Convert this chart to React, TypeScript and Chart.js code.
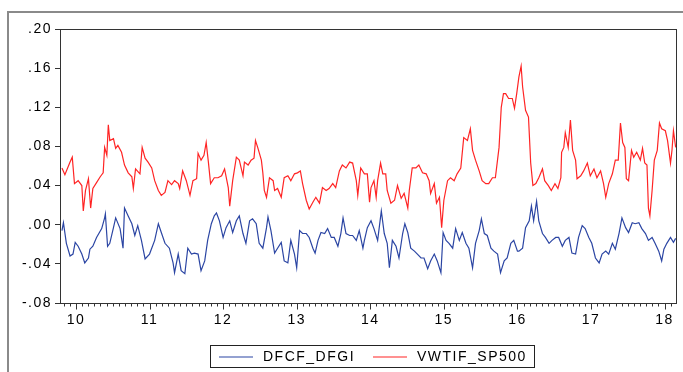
import React, { useEffect, useRef } from 'react';
import { Chart, registerables } from 'chart.js';

Chart.register(...registerables);

// ---------- data ----------
const seriesNames = ['DFCF_DFGI', 'VWTIF_SP500'];

const xTickYears = [2010, 2011, 2012, 2013, 2014, 2015, 2016, 2017, 2018];
const xTickLabels = ['10', '11', '12', '13', '14', '15', '16', '17', '18'];
const yTickValues = [-0.08, -0.04, 0, 0.04, 0.08, 0.12, 0.16, 0.2];
const xMin = 2009.797;
const xMax = 2018.163;

// VWTIF_SP500 (red)
const redTimes = [
  2009.81, 2009.85, 2009.92, 2009.95, 2009.98, 2010.03, 2010.08, 2010.10, 2010.13, 2010.17,
  2010.20, 2010.23, 2010.28, 2010.33, 2010.37, 2010.39, 2010.42, 2010.44, 2010.46, 2010.51,
  2010.54, 2010.57, 2010.62, 2010.66, 2010.71, 2010.76, 2010.78, 2010.81, 2010.87, 2010.90,
  2010.94, 2010.98, 2011.03, 2011.07, 2011.12, 2011.16, 2011.21, 2011.25, 2011.30, 2011.34,
  2011.39, 2011.41, 2011.45, 2011.50, 2011.55, 2011.59, 2011.64, 2011.66, 2011.70, 2011.74,
  2011.77, 2011.80, 2011.83, 2011.88,
  2011.93, 2011.98, 2012.02, 2012.07, 2012.09, 2012.13, 2012.18, 2012.22, 2012.27, 2012.29,
  2012.34, 2012.38, 2012.42, 2012.44, 2012.47, 2012.52, 2012.54, 2012.56, 2012.59, 2012.63,
  2012.68, 2012.70, 2012.74, 2012.79, 2012.83, 2012.88, 2012.92, 2012.97, 2013.01, 2013.05,
  2013.08, 2013.13, 2013.17, 2013.22, 2013.26, 2013.31, 2013.35, 2013.40, 2013.44, 2013.49,
  2013.53, 2013.58, 2013.62, 2013.67, 2013.72, 2013.76, 2013.81, 2013.83, 2013.87, 2013.92,
  2013.96, 2013.99, 2014.01, 2014.05, 2014.08, 2014.10, 2014.14, 2014.17, 2014.21, 2014.23,
  2014.28, 2014.33, 2014.37, 2014.42, 2014.46, 2014.51, 2014.53, 2014.57, 2014.62, 2014.66,
  2014.71, 2014.76, 2014.80, 2014.82, 2014.87, 2014.90, 2014.94, 2014.97, 2015.00, 2015.05,
  2015.09, 2015.14, 2015.18, 2015.23, 2015.27, 2015.32, 2015.36, 2015.39, 2015.43, 2015.48,
  2015.52, 2015.57, 2015.61, 2015.66, 2015.70, 2015.75, 2015.78, 2015.81, 2015.84, 2015.88,
  2015.93, 2015.96, 2015.99, 2016.02, 2016.05,
  2016.07, 2016.11, 2016.15, 2016.18, 2016.21, 2016.25, 2016.29, 2016.34, 2016.37, 2016.42,
  2016.46, 2016.51, 2016.55, 2016.59, 2016.60, 2016.63, 2016.65, 2016.69, 2016.72, 2016.75,
  2016.79, 2016.81, 2016.86, 2016.90, 2016.95, 2016.99, 2017.04, 2017.08, 2017.13, 2017.17,
  2017.20, 2017.24, 2017.29, 2017.33, 2017.37, 2017.40, 2017.43, 2017.46, 2017.48, 2017.51,
  2017.55, 2017.58, 2017.62, 2017.67, 2017.70, 2017.73, 2017.76, 2017.78, 2017.80, 2017.83,
  2017.86, 2017.90, 2017.93, 2017.96, 2018.01, 2018.04, 2018.08, 2018.10, 2018.12, 2018.15,
];
const redValues = [
  0.058, 0.051, 0.064, 0.069, 0.042, 0.045, 0.040, 0.014, 0.035, 0.047,
  0.017, 0.037, 0.043, 0.049, 0.053, 0.079, 0.071, 0.102, 0.086, 0.088,
  0.078, 0.081, 0.074, 0.061, 0.053, 0.049, 0.037, 0.057, 0.052, 0.079,
  0.068, 0.064, 0.058, 0.045, 0.035, 0.030, 0.033, 0.045, 0.041, 0.045,
  0.042, 0.037, 0.055, 0.045, 0.030, 0.045, 0.047, 0.073, 0.066, 0.071,
  0.084, 0.064, 0.042, 0.048,
  0.048, 0.050, 0.057, 0.038, 0.019, 0.045, 0.069, 0.066, 0.050, 0.064,
  0.061, 0.066, 0.068, 0.086, 0.079, 0.066, 0.053, 0.035, 0.028, 0.048,
  0.045, 0.035, 0.037, 0.028, 0.048, 0.050, 0.045, 0.052, 0.053, 0.055,
  0.042, 0.025, 0.016, 0.023, 0.028, 0.022, 0.038, 0.035, 0.037, 0.042,
  0.038, 0.055, 0.061, 0.058, 0.064, 0.063, 0.045, 0.030, 0.058, 0.052,
  0.052, 0.023, 0.038, 0.045, 0.028, 0.045, 0.063, 0.052, 0.052, 0.035,
  0.022, 0.025, 0.040, 0.027, 0.032, 0.017, 0.035, 0.058, 0.058, 0.061,
  0.053, 0.052, 0.045, 0.032, 0.042, 0.022, 0.028, -0.003, 0.025, 0.045,
  0.048, 0.045, 0.052, 0.058, 0.089, 0.086, 0.098, 0.076, 0.066, 0.055,
  0.045, 0.042, 0.042, 0.048, 0.048, 0.079, 0.120, 0.134, 0.134, 0.129,
  0.129, 0.119, 0.134, 0.151, 0.162,
  0.141, 0.117, 0.110, 0.063, 0.040, 0.042, 0.048, 0.057, 0.045, 0.040,
  0.035, 0.042, 0.037, 0.048, 0.074, 0.079, 0.094, 0.079, 0.107, 0.076,
  0.066, 0.047, 0.050, 0.055, 0.063, 0.050, 0.057, 0.048, 0.055, 0.042,
  0.028, 0.042, 0.052, 0.066, 0.066, 0.104, 0.084, 0.079, 0.047, 0.045,
  0.076, 0.069, 0.074, 0.066, 0.078, 0.063, 0.061, 0.017, 0.009, 0.035,
  0.066, 0.076, 0.104, 0.098, 0.096, 0.086, 0.063, 0.076, 0.096, 0.079,
];

// DFCF_DFGI (blue)
const blueTimes = [
  2009.81, 2009.83, 2009.87, 2009.92, 2009.96, 2009.99, 2010.03, 2010.08, 2010.12, 2010.17,
  2010.19, 2010.23, 2010.28, 2010.35, 2010.39, 2010.40, 2010.43, 2010.46, 2010.51, 2010.54,
  2010.60, 2010.64, 2010.66, 2010.71, 2010.76, 2010.80, 2010.84, 2010.89, 2010.94, 2011.00,
  2011.07, 2011.12, 2011.16, 2011.21, 2011.27, 2011.32, 2011.34, 2011.39, 2011.43, 2011.48,
  2011.52, 2011.57, 2011.61, 2011.66, 2011.70, 2011.75, 2011.79, 2011.84, 2011.88,
  2011.91, 2011.95, 2012.00, 2012.04, 2012.09, 2012.13, 2012.18, 2012.22, 2012.27, 2012.31,
  2012.36, 2012.40, 2012.45, 2012.49, 2012.54, 2012.59, 2012.61, 2012.65, 2012.70, 2012.74,
  2012.79, 2012.83, 2012.88, 2012.92, 2012.97, 2013.00, 2013.04, 2013.08, 2013.13, 2013.17,
  2013.22, 2013.25, 2013.29, 2013.33, 2013.38, 2013.42, 2013.47, 2013.51, 2013.56, 2013.60,
  2013.63, 2013.67, 2013.72, 2013.76, 2013.81, 2013.85, 2013.90,
  2013.92, 2013.96, 2014.01, 2014.05, 2014.10, 2014.15, 2014.19, 2014.23, 2014.26, 2014.30,
  2014.35, 2014.39, 2014.44, 2014.47, 2014.51, 2014.55, 2014.60, 2014.64, 2014.69, 2014.73,
  2014.78, 2014.82, 2014.87, 2014.91, 2014.96, 2014.99, 2015.03, 2015.07, 2015.12, 2015.16,
  2015.21, 2015.25, 2015.30, 2015.34, 2015.39, 2015.43, 2015.48, 2015.51, 2015.55, 2015.59,
  2015.64, 2015.68, 2015.73, 2015.77, 2015.82, 2015.86, 2015.91, 2015.95, 2016.00,
  2016.02, 2016.07, 2016.11, 2016.16, 2016.19, 2016.22, 2016.26, 2016.29, 2016.34, 2016.38,
  2016.43, 2016.47, 2016.52, 2016.56, 2016.61, 2016.65, 2016.70, 2016.74, 2016.79, 2016.83,
  2016.88, 2016.92, 2016.97, 2017.01, 2017.06, 2017.11, 2017.15, 2017.20, 2017.24, 2017.29,
  2017.33, 2017.38, 2017.42, 2017.47, 2017.51, 2017.56, 2017.60, 2017.65, 2017.69, 2017.74,
  2017.78, 2017.83, 2017.87, 2017.92, 2017.96, 2017.99, 2018.03, 2018.08, 2018.12, 2018.15,
];
const blueValues = [
  -0.006, 0.002, -0.019, -0.032, -0.030, -0.018, -0.022, -0.030, -0.039, -0.034,
  -0.025, -0.022, -0.013, -0.004, 0.007, 0.011, -0.022, -0.019, -0.003, 0.007,
  -0.004, -0.024, 0.017, 0.009, 0.001, -0.011, -0.001, -0.016, -0.035, -0.030,
  -0.016, 0.001, -0.008, -0.019, -0.024, -0.039, -0.049, -0.030, -0.047, -0.050,
  -0.024, -0.030, -0.029, -0.030, -0.047, -0.037, -0.016, 0.001, 0.009,
  0.012, 0.004, -0.013, -0.003, 0.004, -0.008, 0.004, 0.009, -0.009, -0.019,
  0.004, 0.006, 0.001, -0.019, -0.024, -0.003, 0.008, -0.006, -0.029, -0.024,
  -0.018, -0.037, -0.039, -0.016, -0.030, -0.044, -0.006, -0.009, -0.009, -0.013,
  -0.024, -0.029, -0.016, -0.008, -0.009, -0.004, -0.013, -0.013, -0.022, -0.009,
  0.007, -0.009, -0.011, -0.011, -0.016, -0.006, -0.024,
  -0.016, -0.003, 0.004, -0.004, -0.016, 0.014, -0.009, -0.019, -0.044, -0.016,
  -0.022, -0.034, -0.009, 0.001, -0.008, -0.024, -0.027, -0.030, -0.034, -0.034,
  -0.045, -0.037, -0.030, -0.037, -0.049, -0.008, -0.016, -0.019, -0.024, -0.004,
  -0.016, -0.008, -0.019, -0.024, -0.044, -0.019, -0.006, 0.006, -0.009, -0.011,
  -0.024, -0.027, -0.030, -0.049, -0.037, -0.034, -0.019, -0.016, -0.027,
  -0.027, -0.024, -0.003, 0.004, 0.019, 0.004, 0.024, 0.004, -0.009, -0.013,
  -0.019, -0.016, -0.013, -0.013, -0.022, -0.016, -0.013, -0.029, -0.030, -0.013,
  -0.001, -0.004, -0.013, -0.019, -0.034, -0.039, -0.030, -0.027, -0.030, -0.019,
  -0.025, -0.009, 0.007, -0.003, -0.008, 0.002, 0.001, 0.002, -0.004, -0.009,
  -0.016, -0.013, -0.019, -0.027, -0.037, -0.025, -0.019, -0.013, -0.018, -0.014,
];

const blueColor = '#2b45a3';
const redColor = '#ff2424';
const FONT_FAMILY = '"Liberation Sans", Arial, sans-serif';
const LETTER_SPACING = '1.5px';

function fmtY(v: number): string {
  const s = Math.abs(v).toFixed(2).replace(/^0/, '');
  return (v < -1e-9 ? '-' : '') + s;
}

export default function App() {
  const ref = useRef<HTMLCanvasElement>(null);

  useEffect(() => {
    const canvas = ref.current;
    if (!canvas) return;

    const framePlugin = {
      id: 'eviewsFrame',
      beforeLayout(chart: any) {
        chart.ctx.letterSpacing = LETTER_SPACING;
      },
      beforeDraw(chart: any) {
        const ctx = chart.ctx;
        ctx.save();
        ctx.fillStyle = '#ffffff';
        ctx.fillRect(0, 0, chart.width, chart.height);
        ctx.restore();
        ctx.letterSpacing = LETTER_SPACING;
      },
      afterDraw(chart: any) {
        const ctx = chart.ctx;
        const a = chart.chartArea;
        const xs = chart.scales.x;
        ctx.save();
        // outer frame
        ctx.strokeStyle = '#8a8a8a';
        ctx.lineWidth = 2;
        ctx.strokeRect(8, 12, 700, 400);
        // plot box
        ctx.strokeStyle = '#333333';
        ctx.lineWidth = 1;
        ctx.strokeRect(Math.round(a.left) - 0.5, Math.round(a.top) + 0.5,
          Math.round(a.right - a.left), Math.round(a.bottom - a.top));
        // x ticks: monthly minor, yearly major
        const m0 = Math.ceil(xMin * 12);
        const m1 = Math.floor(xMax * 12);
        ctx.beginPath();
        for (let m = m0; m <= m1; m++) {
          const px = Math.round(xs.getPixelForValue(m / 12)) + 0.5;
          const len = m % 12 === 0 ? 6 : 3;
          ctx.moveTo(px, Math.round(a.bottom) + 0.5);
          ctx.lineTo(px, Math.round(a.bottom) + 0.5 + len);
        }
        ctx.stroke();
        // legend
        const lx = 210, ly = 345, lw = 324, lh = 22;
        ctx.strokeStyle = '#222222';
        ctx.strokeRect(lx + 0.5, ly + 0.5, lw, lh);
        const cy = ly + lh / 2 + 1;
        const ds = chart.data.datasets;
        ctx.lineWidth = 1.2;
        ctx.strokeStyle = ds[0].borderColor;
        ctx.beginPath();
        ctx.moveTo(219, cy);
        ctx.lineTo(253, cy);
        ctx.stroke();
        ctx.strokeStyle = ds[1].borderColor;
        ctx.beginPath();
        ctx.moveTo(373, cy);
        ctx.lineTo(407, cy);
        ctx.stroke();
        ctx.fillStyle = '#000000';
        ctx.font = '14px ' + FONT_FAMILY;
        ctx.letterSpacing = LETTER_SPACING;
        ctx.textBaseline = 'middle';
        ctx.textAlign = 'left';
        ctx.fillText(ds[0].label, 263, cy);
        ctx.fillText(ds[1].label, 417, cy);
        ctx.restore();
      },
    };

    const chart = new Chart(canvas, {
      type: 'line',
      data: {
        datasets: [
          {
            label: seriesNames[0],
            data: blueTimes.map((t, i) => ({ x: t, y: blueValues[i] })),
            borderColor: blueColor,
            borderWidth: 1.2,
            pointRadius: 0,
            tension: 0,
            fill: false,
          },
          {
            label: seriesNames[1],
            data: redTimes.map((t, i) => ({ x: t, y: redValues[i] })),
            borderColor: redColor,
            borderWidth: 1.2,
            pointRadius: 0,
            tension: 0,
            fill: false,
          },
        ],
      },
      options: {
        animation: false,
        responsive: false,
        devicePixelRatio: 1,
        layout: { padding: { left: 0, top: 29, right: 5, bottom: 0 } },
        plugins: {
          legend: { display: false },
          tooltip: { enabled: false },
          title: { display: false },
        },
        scales: {
          x: {
            type: 'linear',
            min: xMin,
            max: xMax,
            afterBuildTicks: (scale: any) => {
              scale.ticks = xTickYears.map((v) => ({ value: v }));
            },
            afterFit: (scale: any) => {
              scale.height = 69;
            },
            grid: { display: false, drawTicks: false, tickLength: 0 },
            border: { display: false },
            ticks: {
              autoSkip: false,
              maxRotation: 0,
              padding: 9,
              color: '#000000',
              font: { size: 14, family: FONT_FAMILY },
              callback: (_v: any, i: number) => xTickLabels[i] ?? '',
            },
          },
          y: {
            type: 'linear',
            min: yTickValues[0],
            max: yTickValues[yTickValues.length - 1],
            afterBuildTicks: (scale: any) => {
              scale.ticks = yTickValues.map((v) => ({ value: v }));
            },
            afterFit: (scale: any) => {
              scale.width = 61;
            },
            grid: {
              display: true,
              drawOnChartArea: false,
              drawTicks: true,
              tickLength: 6,
              color: '#333333',
            },
            border: { display: false },
            ticks: {
              padding: 3,
              color: '#000000',
              font: { size: 14, family: FONT_FAMILY },
              callback: (v: any) => fmtY(Number(v)),
            },
          },
        },
      },
      plugins: [framePlugin],
    } as any);

    return () => chart.destroy();
  }, []);

  return (
    <div style={{ position: 'fixed', left: 0, top: 0, width: 683, height: 372, background: '#fff' }}>
      <canvas ref={ref} width={683} height={372} style={{ display: 'block', width: 683, height: 372 }} />
    </div>
  );
}
